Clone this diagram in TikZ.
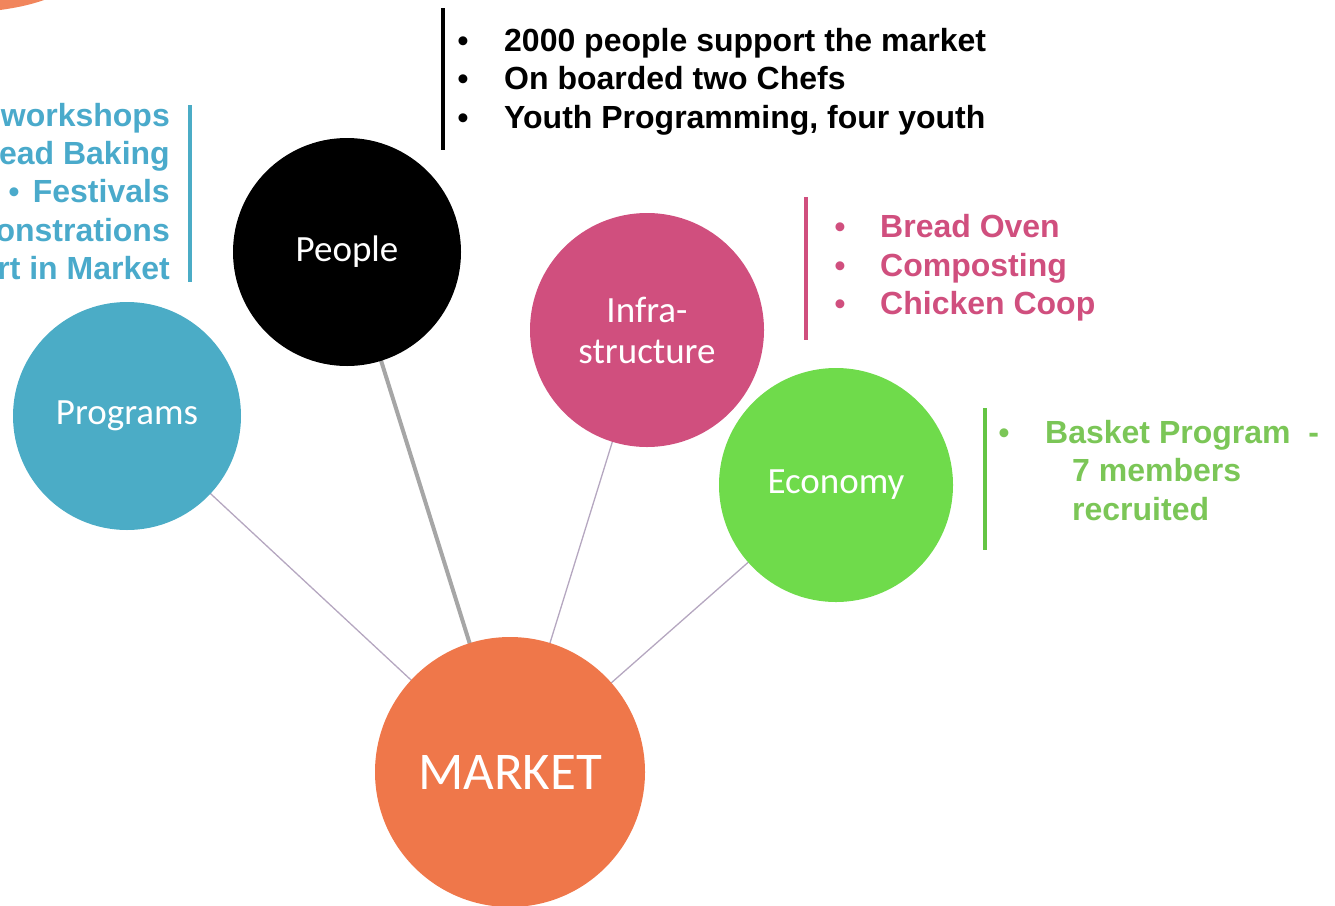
\documentclass[tikz,border=0pt]{standalone}
\usepackage{fontspec}
\setmainfont{Liberation Sans}
\newfontfamily\calib{Carlito}
\usetikzlibrary{backgrounds}
\definecolor{cblue}{HTML}{4BACC6}
\definecolor{tblue}{HTML}{4AAACB}
\definecolor{cpink}{HTML}{D04F7E}
\definecolor{cgreen}{HTML}{6FDB4B}
\definecolor{tgreen}{HTML}{7BC657}
\definecolor{corange}{HTML}{EF774A}
\definecolor{clink}{HTML}{B5A7C0}
\definecolor{cgray}{HTML}{A6A6A6}
\begin{document}
\begin{tikzpicture}[x=1pt,y=-1pt,
  bubble/.style={circle,inner sep=0pt,text=white,font=\calib\fontsize{37}{41}\selectfont,align=center},
  link/.style={draw=clink,line width=1.3pt},
  bar/.style={line width=4pt},
  item/.style={inner sep=0pt,anchor=base west,font=\bfseries\fontsize{32}{37}\selectfont},
  bul/.style={inner sep=0pt,anchor=base,font=\bfseries\fontsize{31}{37}\selectfont}]
\useasboundingbox (0,0) rectangle (1335,905);
\fill[corange!90] (0,0) -- (44,0) .. controls (30,5) and (15,8) .. (0,10) -- cycle;

% circles
\node[bubble,fill=black,minimum size=228pt] (people) at (347,252) {People};
\node[bubble,fill=cblue,minimum size=228pt] (prog) at (127,416) {Programs};
\node[bubble,fill=cpink,minimum size=234pt] (infra) at (647,330) {Infra-\\structure};
\node[bubble,fill=cgreen,minimum size=234pt] (econ) at (836,485) {Economy};
\node[bubble,fill=corange,minimum size=270pt,font=\calib\fontsize{53}{60}\selectfont] (mkt) at (510,772) {MARKET};

\begin{scope}[on background layer]
\draw[link] (prog.center) -- (mkt.center);
\draw[draw=cgray,line width=4pt] (people.center) -- (mkt.center);
\draw[link] (infra.center) -- (mkt.center);
\draw[link] (econ.center) -- (mkt.center);
\end{scope}

% people text
\coordinate (pb1) at (443,8); \coordinate (pb2) at (443,150);
\draw[bar,black] (pb1) -- (pb2);
\node[bul] (pd1) at (463,51) {•};
\node[bul] (pd2) at (463,89) {•};
\node[bul] (pd3) at (463,128) {•};
\node[item] (pt1) at (504,51) {2000 people support the market};
\node[item] (pt2) at (504,89) {On boarded two Chefs};
\node[item] (pt3) at (504,128) {Youth Programming, four youth};

% infrastructure text
\coordinate (ib1) at (806,197); \coordinate (ib2) at (806,340);
\draw[bar,cpink] (ib1) -- (ib2);
\begin{scope}[text=cpink]
\node[bul] (id1) at (840,237) {•};
\node[bul] (id2) at (840,276) {•};
\node[bul] (id3) at (840,314) {•};
\node[item] (it1) at (880,237) {Bread Oven};
\node[item] (it2) at (880,276) {Composting};
\node[item] (it3) at (880,314) {Chicken Coop};
\end{scope}

% economy text
\coordinate (eb1) at (985,408); \coordinate (eb2) at (985,550);
\draw[bar,cgreen!90!black] (eb1) -- (eb2);
\begin{scope}[text=tgreen]
\node[bul] (ed1) at (1004,443) {•};
\node[item] (et1) at (1045,443) {Basket Program\ \ -};
\node[item] (et2) at (1072,481) {7 members};
\node[item] (et3) at (1072,520) {recruited};
\end{scope}

% programs text
\coordinate (bb1) at (190,105); \coordinate (bb2) at (190,282);
\draw[line width=3.5pt,cblue] (bb1) -- (bb2);
\begin{scope}[text=tblue]
\node[item,anchor=base east] (bt1) at (170,126) {workshops};
\node[item,anchor=base east] (bt2) at (170,164) {ead Baking};
\node[item,anchor=base east] (bt3) at (170,202) {Festivals};
\node[bul] (bd3) at (14,202) {•};
\node[item,anchor=base east] (bt4) at (170,241) {onstrations};
\node[item,anchor=base east] (bt5) at (170,279) {rt in Market};
\end{scope}
\end{tikzpicture}
\end{document}
